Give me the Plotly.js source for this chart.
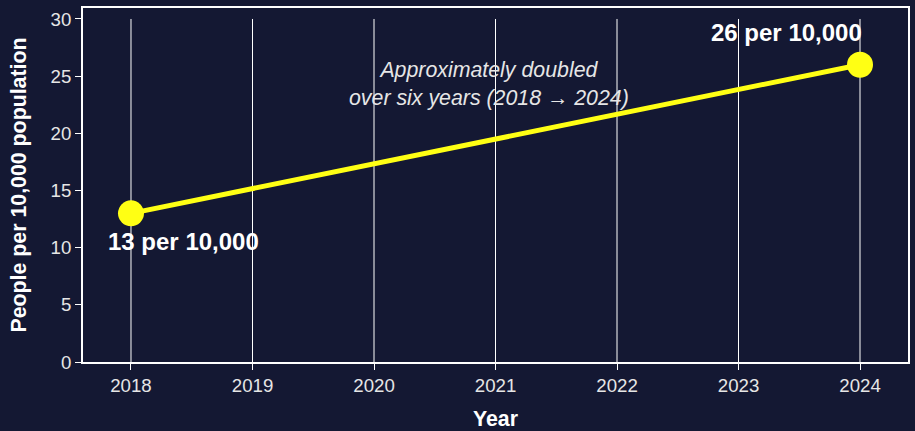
<!DOCTYPE html>
<html>
<head>
<meta charset="utf-8">
<script src="https://cdn.plot.ly/plotly-3.0.1.min.js"></script>
<style>html,body{margin:0;padding:0;background:#141833;}#chart{width:915px;height:431px;}</style>
</head>
<body>
<div id="chart"></div>
<script>
const years = [2018, 2024];
const values = [13, 26];
const tickYears = [2018, 2019, 2020, 2021, 2022, 2023, 2024];
const yTicks = [0, 5, 10, 15, 20, 25, 30];
const labels = ["13 per 10,000", "26 per 10,000"];
const note = "Approximately doubled<br>over six years (2018 → 2024)";

const bg = "#141833";
const font = "Liberation Sans, Arial, sans-serif";

const shapes = tickYears.map(y => ({
  type: "line", xref: "x", yref: "y", x0: y, x1: y, y0: 0, y1: 30,
  line: {color: "#ffffff", width: 1}, layer: "below"
}));

const trace = {
  x: years, y: values, type: "scatter", mode: "lines+markers",
  line: {color: "#ffff14", width: 5},
  marker: {color: "#ffff14", size: 26},
  hoverinfo: "skip"
};

const layout = {
  width: 915, height: 431,
  paper_bgcolor: bg, plot_bgcolor: bg,
  margin: {l: 83, r: 7, t: 8, b: 69},
  showlegend: false,
  font: {family: font, color: "#e6e6e6", size: 18.67},
  xaxis: {
    range: [2017.605, 2024.395], tickvals: tickYears, ticktext: tickYears.map(String),
    showgrid: false, zeroline: false,
    showline: true, linecolor: "#ffffff", linewidth: 2, mirror: true,
    ticks: "outside", ticklen: 6, tickcolor: "#ffffff", tickwidth: 1,
    tickfont: {size: 18.67, color: "#e6e6e6"},
    title: {text: "Year", font: {size: 21.33, color: "#ffffff", family: font, weight: "bold"}, standoff: 19}
  },
  yaxis: {
    range: [0, 30.96], tickvals: yTicks,
    showgrid: false, zeroline: false,
    showline: true, linecolor: "#ffffff", linewidth: 2, mirror: true,
    ticks: "outside", ticklen: 6, tickcolor: "#ffffff", tickwidth: 1,
    tickfont: {size: 18.67, color: "#e6e6e6"},
    title: {text: "People per 10,000 population", font: {size: 21.33, color: "#ffffff", family: font, weight: "bold"}, standoff: 18}
  },
  shapes: shapes,
  annotations: [
    {x: years[0], y: values[0], xref: "x", yref: "y", text: labels[0], showarrow: false,
     xanchor: "center", yanchor: "middle", xshift: 53, yshift: -28,
     font: {size: 24, color: "#ffffff", family: font, weight: "bold"}},
    {x: years[1], y: values[1], xref: "x", yref: "y", text: labels[1], showarrow: false,
     xanchor: "center", yanchor: "middle", xshift: -74, yshift: 32,
     font: {size: 24, color: "#ffffff", family: font, weight: "bold"}},
    {x: 2020.947, y: 24.3, xref: "x", yref: "y", text: "<i>" + note + "</i>", showarrow: false,
     xanchor: "center", yanchor: "middle", align: "center",
     font: {size: 21.33, color: "#e6e6e6", family: font}}
  ]
};

Plotly.newPlot("chart", [trace], layout, {displayModeBar: false, staticPlot: true});
</script>
</body>
</html>
